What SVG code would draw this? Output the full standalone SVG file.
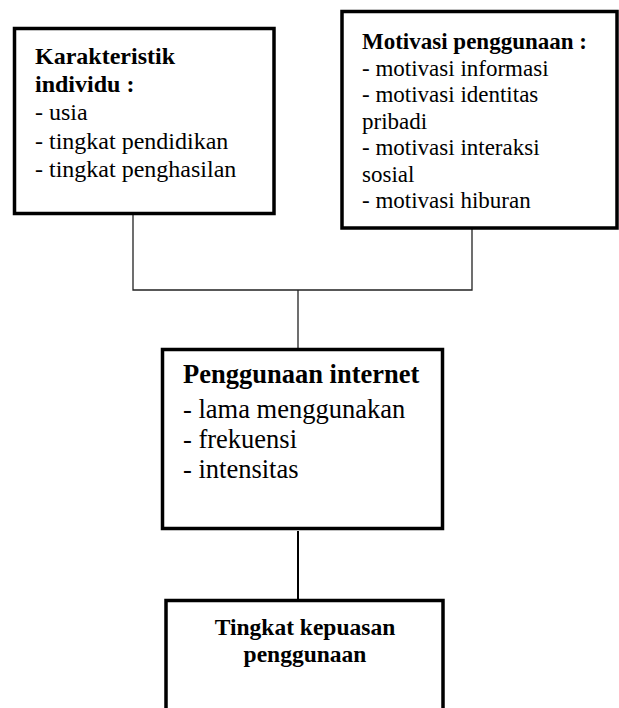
<svg xmlns="http://www.w3.org/2000/svg" width="619" height="708" viewBox="0 0 619 708">
<style>
text{font-family:'Liberation Serif','Times New Roman',Times,serif;fill:#000}
.b{font-weight:bold}
.box{fill:#fff;stroke:#000;stroke-width:3.5}
.c{fill:none;stroke:#222;stroke-width:1.3}
</style>
<rect width="619" height="708" fill="#fff"/>
<g id="connectors">
<path class="c" d="M133 215V290H472V229M298 290V348"/>
<path class="c" style="stroke:#000;stroke-width:2" d="M298 531V599"/>
</g>
<g id="karakteristik">
<rect class="box" x="14.5" y="28.5" width="259.5" height="185"/>
<text font-size="24" x="35" y="64" class="b">Karakteristik</text>
<text font-size="24" x="35" y="92" class="b">individu :</text>
<text font-size="24" x="35" y="120">- usia</text>
<text font-size="24" x="35" y="149">- tingkat pendidikan</text>
<text font-size="24" x="35" y="177">- tingkat penghasilan</text>
</g>
<g id="motivasi">
<rect class="box" x="342" y="11.5" width="275" height="216.5"/>
<text font-size="23" x="362" y="49" class="b">Motivasi penggunaan :</text>
<text font-size="23" x="362" y="76">- motivasi informasi</text>
<text font-size="23" x="362" y="102">- motivasi identitas</text>
<text font-size="23" x="362" y="129">pribadi</text>
<text font-size="23" x="362" y="155">- motivasi interaksi</text>
<text font-size="23" x="362" y="182">sosial</text>
<text font-size="23" x="362" y="208">- motivasi hiburan</text>
</g>
<g id="penggunaan">
<rect class="box" x="162.5" y="349.5" width="280" height="179"/>
<text font-size="26.5" x="183" y="383" class="b">Penggunaan internet</text>
<text font-size="26.5" x="183" y="418">- lama menggunakan</text>
<text font-size="26.5" x="183" y="448">- frekuensi</text>
<text font-size="26.5" x="183" y="478">- intensitas</text>
</g>
<g id="kepuasan">
<rect class="box" x="166" y="600.5" width="277" height="130"/>
<text font-size="23.5" x="305" y="635" text-anchor="middle" class="b">Tingkat kepuasan</text>
<text font-size="23.5" x="305" y="662" text-anchor="middle" class="b">penggunaan</text>
</g>
</svg>
